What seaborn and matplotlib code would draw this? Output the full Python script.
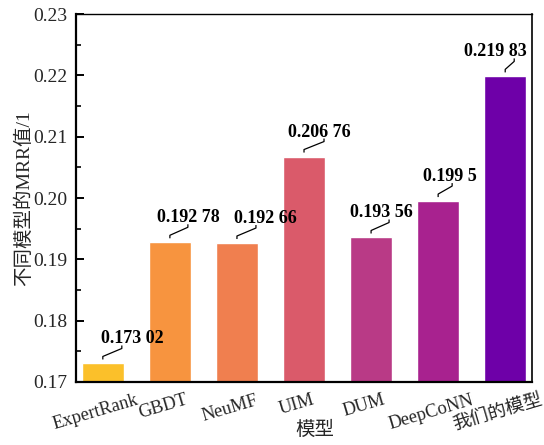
import matplotlib
matplotlib.use("Agg")
import matplotlib.pyplot as plt
import matplotlib.transforms as mtransforms
from matplotlib.ticker import MultipleLocator, FormatStrFormatter
import seaborn as sns
import pandas as pd

# Model names and their MRR scores
models = ["ExpertRank", "GBDT", "NeuMF", "UIM", "DUM", "DeepCoNN", "我们的模型"]
mrr = [0.17302, 0.19278, 0.19266, 0.20676, 0.19356, 0.1995, 0.21983]
value_text = ["0.173 02", "0.192 78", "0.192 66", "0.206 76", "0.193 56", "0.199 5", "0.219 83"]

# Bar colours
bar_colors = ["#FBC02A", "#F7943F", "#F07F4F", "#DA5A6A", "#B93A86", "#A8228F", "#6E00A8"]

# Leader-line end and label centre offsets (pixels, relative to bar top centre)
leader_dx = [19, 18, 19, 20, 18, 14, 9]
leader_rise = [15, 15, 15, 15, 15, 15, 15]
label_dx = [29, 18.5, 28.5, 15.5, 10, 11.5, -10]

sns.set_theme(style="white")
plt.rcParams["font.family"] = ["Liberation Serif", "Noto Sans CJK SC"]
plt.rcParams["axes.unicode_minus"] = False

DPI = 100
fig = plt.figure(figsize=(5.44, 4.45), dpi=DPI)
ax = fig.add_axes([0.1397, 0.1416, 0.8383, 0.8269])

df = pd.DataFrame({"model": models, "mrr": mrr})
sns.barplot(data=df, x="model", y="mrr", hue="model", palette=bar_colors,
            legend=False, width=0.63, saturation=1, ax=ax)

ax.set_ylim(0.17, 0.23)
ax.set_xlim(-0.4, 6.4)
ax.yaxis.set_major_locator(MultipleLocator(0.01))
ax.yaxis.set_minor_locator(MultipleLocator(0.005))
ax.yaxis.set_major_formatter(FormatStrFormatter("%.2f"))
ax.tick_params(axis="y", which="major", direction="in", length=6, width=1.4,
               labelsize=14, pad=6, color="black", left=True)
ax.tick_params(axis="y", which="minor", direction="in", length=3.5, width=1.2,
               color="black", left=True)
ax.tick_params(axis="x", length=0, labelsize=13.3, pad=7)
shift = mtransforms.ScaledTranslation(-7 / DPI, 0, fig.dpi_scale_trans)
for lab in ax.get_xticklabels():
    lab.set_rotation(16.5)
    lab.set_ha("center")
    lab.set_transform(lab.get_transform() + shift)

for side, lw in [("left", 1.6), ("bottom", 1.6), ("top", 1.0), ("right", 1.2)]:
    ax.spines[side].set_visible(True)
    ax.spines[side].set_color("black")
    ax.spines[side].set_linewidth(lw)

ax.set_xlabel("模型", fontsize=14, va="top")
ax.set_ylabel("不同模型的MRR值/1", fontsize=14)
ax.xaxis.set_label_coords(0.524, -0.105)
ax.yaxis.set_label_coords(-0.095, 0.5)

# Value labels with small leader lines, positioned in pixel offsets from each bar top
px = mtransforms.Affine2D().scale(fig.dpi / DPI)
for i, (v, txt) in enumerate(zip(mrr, value_text)):
    trans = px + mtransforms.ScaledTranslation(i, v, ax.transData)
    dx = leader_dx[i]
    rise = leader_rise[i]
    ax.plot([0, 0, dx, dx], [4, 7, rise, rise + 3], color="black", lw=0.9,
            transform=trans, clip_on=False, solid_capstyle="butt")
    ax.text(label_dx[i], 20, txt, transform=trans, ha="center", va="baseline",
            fontsize=13, fontweight="bold", color="black")

fig.savefig("out.png", dpi=DPI)
